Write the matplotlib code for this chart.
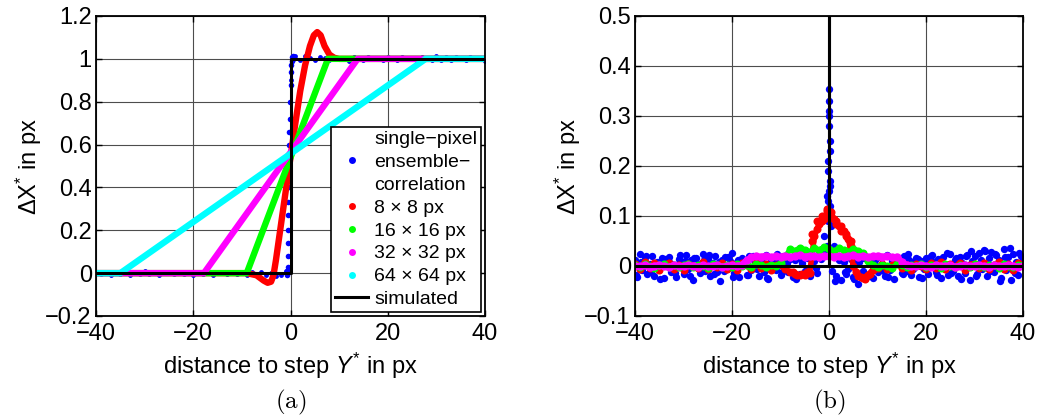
import numpy as np
from matplotlib import pyplot as plt
from matplotlib.lines import Line2D
from matplotlib.ticker import FuncFormatter

plt.rcParams['font.family'] = ['Liberation Sans', 'DejaVu Sans']
plt.rcParams['mathtext.fontset'] = 'custom'
plt.rcParams['mathtext.rm'] = 'Liberation Sans'
plt.rcParams['mathtext.it'] = 'Liberation Sans:italic'
plt.rcParams['font.size'] = 17

# ---------------- data (a): step response ----------------
x_a = np.arange(-40, 41, 1)
blue_a = [0.005, -0.006, 0.003, -0.008, 0.007, -0.002, 0.006, -0.007, 0.004, -0.004,
          0.008, -0.005, 0.002, -0.009, 0.005, 0.003, -0.006, 0.007, -0.003, 0.004,
          -0.007, 0.006, -0.002, 0.005, -0.008, 0.003, 0.007, -0.005, 0.002, -0.006,
          0.004, -0.008, 0.006, -0.003, 0.005, -0.007, 0.002, -0.012, -0.01, 0.01,
          0.9,
          1.012, 0.996, 1.015, 1.004, 0.993, 1.01, 1.002, 0.994, 1.008, 0.997,
          1.006, 0.992, 1.009, 1.003, 0.995, 1.011, 0.998, 1.005, 0.993, 1.007,
          1.002, 0.994, 1.01, 0.997, 1.006, 0.991, 1.008, 1.001, 0.995, 1.012,
          0.996, 1.007, 0.993, 1.009, 1.003, 0.994, 1.011, 0.997, 1.005, 0.992]
blue_a_step_x = [-0.8, -0.7, -0.6, -0.55, -0.5, -0.5, -0.45, -0.45, -0.4, -0.4, -0.35,
                 -0.3, -0.25, -0.2, -0.1, 0.0, 0.1, 0.2, 0.4, 0.6, 0.5, 0.3]
blue_a_step_y = [-0.01, 0.01, 0.03, 0.08, 0.14, 0.2, 0.27, 0.33, 0.4, 0.46, 0.52,
                 0.6, 0.66, 0.72, 0.8, 0.88, 0.94, 0.97, 0.99, 1.0, 1.015, 1.01]

red_a_x = [-40, -9, -7, -5.5, -4.7, -4.0, -3.5, -3, -2, -1, 0, 1, 2, 3, 4, 4.8, 5.5, 6.2, 7, 8, 9, 10, 40]
red_a_y = [0, 0, -0.01, -0.035, -0.045, -0.04, -0.01, 0.06, 0.22, 0.38, 0.54, 0.7, 0.85, 0.97,
           1.06, 1.11, 1.125, 1.11, 1.06, 1.02, 1.005, 1.0, 1.0]
green_a_x = [-40, -9, 7.7, 40]
green_a_y = [0, 0, 1, 1]
magenta_a_x = [-40, -17.8, 13.8, 40]
magenta_a_y = [0, 0, 1, 1]
cyan_a_x = [-40, -35, 27.8, 40]
cyan_a_y = [0, 0, 1, 1]
sim_a_x = [-40, 0, 0, 40]
sim_a_y = [0, 0, 1, 1]

# ---------------- data (b): deviation ----------------
x_b_fine = np.arange(-40, 40.01, 0.5)
blue_b = [0.012, -0.022, 0.025, -0.008, 0.018, -0.015, 0.005, 0.021, -0.019, 0.009,
          -0.004, 0.016, -0.024, 0.011, 0.019, -0.012, 0.003, -0.021, 0.014, 0.008,
          -0.016, 0.022, -0.006, 0.013, -0.027, 0.017, 0.004, -0.013, 0.024, -0.009,
          0.015, -0.019, 0.007, 0.02, -0.011, -0.03, 0.012, 0.018, -0.005, 0.01,
          0.026, -0.014, 0.009, -0.022, 0.017, 0.005, -0.017, 0.021, -0.008, 0.013,
          0.019, -0.02, 0.006, -0.012, 0.023, -0.025, 0.011, 0.016, -0.007, 0.014,
          -0.018, 0.021, 0.008, -0.011, 0.015, -0.021, 0.012, 0.019, -0.015, 0.006,
          -0.01, 0.017, -0.02, 0.022, 0.01, -0.013, 0.026, 0.035, 0.06, 0.14,
          0.31, 0.1, 0.04, -0.02, 0.012, -0.028, 0.008, -0.016, -0.006, 0.014,
          -0.022, 0.011, -0.036, 0.016, -0.009, 0.02, -0.017, 0.007, -0.024, 0.013,
          -0.012, 0.018, 0.004, -0.02, 0.022, -0.007, 0.011, -0.026, 0.015, 0.006,
          -0.014, 0.02, -0.009, 0.013, -0.018, 0.008, 0.017, -0.022, 0.01, -0.005,
          0.016, -0.016, 0.021, 0.009, -0.011, 0.014, -0.024, 0.019, 0.003, -0.017,
          0.025, -0.009, 0.012, -0.02, 0.018, 0.007, -0.013, 0.023, -0.028, 0.011,
          0.02, -0.015, 0.026, -0.006, 0.033, -0.019, 0.017, 0.029, -0.011, 0.022,
          0.012, -0.024, 0.034, -0.008, 0.019, -0.027, 0.025, 0.009, -0.017, 0.021, 0.015]
x_b_shift = np.arange(-39.75, 39.5, 1)
blue_b2 = [-0.018, 0.009, 0.02, -0.011, 0.003, -0.025, 0.015, 0.006, -0.014, 0.022,
           0.01, -0.02, 0.017, -0.003, 0.012, 0.023, -0.016, 0.008, -0.009, 0.019,
           -0.021, 0.013, 0.004, -0.018, 0.02, -0.006, 0.016, -0.023, 0.011, 0.025,
           -0.012, 0.007, 0.018, -0.026, 0.014, -0.01, 0.022, -0.004, 0.015, 0.03,
           0.17, -0.03, 0.018, -0.012, 0.02, -0.025, 0.009, 0.016, -0.019, 0.004,
           0.019, -0.01, -0.021, 0.012, 0.007, -0.015, 0.024, -0.006, 0.014, -0.023,
           0.01, 0.022, -0.018, 0.006, 0.027, -0.013, 0.017, -0.026, 0.02, 0.031,
           -0.02, 0.013, 0.03, -0.009, 0.024, -0.03, 0.018, 0.036, -0.014, 0.027]
blue_b_peak_x = [-0.3, -0.2, -0.1, 0.0, 0.1, 0.2, 0.3, -0.25, 0.15, -0.15, 0.25, 0.05, -0.05, 0.35, -0.35, 0.6]
blue_b_peak_y = [0.09, 0.21, 0.33, 0.355, 0.28, 0.25, 0.16, 0.13, 0.23, 0.19, 0.12, 0.15, 0.30, 0.08, 0.04, -0.01]

x_b = np.arange(-40, 41, 1)
red_b = [0.004, -0.006, 0.008, -0.003, 0.006, -0.008, 0.002, 0.007, -0.005, 0.003,
         -0.007, 0.005, 0.001, -0.004, 0.008, -0.006, 0.003, -0.002, 0.006, -0.005,
         0.004, -0.008, 0.006, 0.002, -0.005, 0.007, -0.003, 0.005, -0.007, 0.002,
         0.003, -0.006, -0.012, -0.016, -0.018, -0.017, -0.014, 0.06, 0.085, 0.095,
         0.105, 0.095, 0.08, 0.07, 0.055, 0.0, -0.02, -0.024, -0.018, -0.008,
         -0.004, 0.005, -0.006, 0.003, 0.007, -0.004, 0.002, -0.007, 0.005, 0.001,
         -0.005, 0.006, -0.003, 0.008, -0.006, 0.004, -0.002, 0.007, -0.008, 0.003,
         0.005, -0.004, 0.007, -0.006, 0.002, 0.008, -0.005, 0.004, -0.007, 0.006, 0.002]
red_b_center_x = [-3.5, -2.5, -1.5, -0.5, 0.5, 1.5, 2.5, 3.5, 4.5, -3.5, -2.5, -1.5, -0.5, 0.5, 1.5,
                  2.5, 3.5, 4.5, -4.5, 5.5, 6.5, 7.5, 8.5, -5.5, -6.5, -7.5]
red_b_center_y = [0.05, 0.075, 0.09, 0.11, 0.1, 0.085, 0.07, 0.065, 0.05, 0.065, 0.09, 0.1, 0.115,
                  0.108, 0.09, 0.08, 0.06, 0.04, -0.012, -0.012, -0.022, -0.025, -0.015, -0.016,
                  -0.018, -0.012]
green_b = [0.003, -0.002, 0.004, 0.001, -0.003, 0.002, 0.004, -0.001, 0.003, -0.002,
           0.002, 0.004, -0.002, 0.003, 0.001, -0.003, 0.004, 0.002, -0.001, 0.003,
           -0.002, 0.004, 0.001, 0.003, -0.002, 0.004, 0.002, -0.001, 0.003, 0.001,
           0.006, 0.02, 0.034, 0.031, 0.037, 0.033, 0.029, 0.036, 0.032, 0.038,
           0.035, 0.03, 0.036, 0.033, 0.029, 0.035, 0.031, 0.026, 0.01, 0.003,
           -0.002, 0.003, 0.001, -0.003, 0.004, 0.002, -0.002, 0.003, 0.001, 0.004,
           -0.001, 0.003, 0.002, -0.003, 0.004, 0.001, -0.002, 0.003, 0.002, -0.001,
           0.004, 0.001, -0.002, 0.003, 0.002, -0.003, 0.004, 0.001, -0.002, 0.003, 0.002]
magenta_b = [0.001, 0.0, 0.002, -0.001, 0.001, 0.002, 0.0, -0.001, 0.002, 0.001,
             0.0, 0.002, 0.001, -0.001, 0.002, 0.0, 0.001, 0.002, -0.001, 0.001,
             0.002, 0.0, 0.003, 0.012, 0.018, 0.02, 0.019, 0.021, 0.018, 0.02,
             0.019, 0.021, 0.018, 0.02, 0.022, 0.019, 0.021, 0.02, 0.018, 0.021,
             0.02, 0.019, 0.021, 0.018, 0.02, 0.022, 0.019, 0.021, 0.018, 0.02,
             0.021, 0.019, 0.02, 0.018, 0.019, 0.009, 0.002, 0.001, 0.0, 0.002,
             0.001, -0.001, 0.002, 0.001, 0.0, 0.002, -0.001, 0.001, 0.002, 0.0,
             0.001, 0.002, 0.0, -0.001, 0.002, 0.001, 0.0, 0.002, 0.001, -0.001, 0.001]
sim_b_x = [-40, 0, 0, 0, 40]
sim_b_y = [0, 0, 1, 0, 0]

labels = ['single\u2212pixel', 'ensemble\u2212', 'correlation',
          '8 \u00d7 8 px', '16 \u00d7 16 px', '32 \u00d7 32 px', '64 \u00d7 64 px', 'simulated']

yticks_a = [-0.2, 0, 0.2, 0.4, 0.6, 0.8, 1, 1.2]
yticks_b = [-0.1, 0, 0.1, 0.2, 0.3, 0.4, 0.5]
xticks = [-40, -20, 0, 20, 40]

C_BLUE, C_RED, C_GREEN, C_MAG, C_CYAN = '#0000ff', '#ff0000', '#00ff00', '#ff00ff', '#00ffff'

fmt = FuncFormatter(lambda v, p: ('%g' % v).replace('-', '\u2212'))

fig = plt.figure(figsize=(10.39, 4.18), dpi=100)
ax1 = fig.add_axes([96 / 1039, 102 / 418, 389 / 1039, 300 / 418])
ax2 = fig.add_axes([635 / 1039, 102 / 418, 388 / 1039, 300 / 418])

line_kw = dict(lw=4.6, solid_capstyle='round', solid_joinstyle='round')

# (a)
ax1.plot(x_a, blue_a, 'o', color=C_BLUE, ms=3.5, mec='none')
ax1.plot(blue_a_step_x, blue_a_step_y, 'o', color=C_BLUE, ms=4, mec='none')
ax1.plot(red_a_x, red_a_y, color=C_RED, **line_kw)
ax1.plot(green_a_x, green_a_y, color=C_GREEN, **line_kw)
ax1.plot(magenta_a_x, magenta_a_y, color=C_MAG, **line_kw)
ax1.plot(cyan_a_x, cyan_a_y, color=C_CYAN, **line_kw)
ax1.plot(sim_a_x, sim_a_y, color='k', lw=2.2)

# (b)
ax2.plot(x_b_fine, blue_b, 'o', color=C_BLUE, ms=5.3, mec='none')
ax2.plot(x_b_shift, blue_b2, 'o', color=C_BLUE, ms=5.3, mec='none')
ax2.plot(blue_b_peak_x, blue_b_peak_y, 'o', color=C_BLUE, ms=5.3, mec='none')
ax2.plot(x_b, red_b, 'o-', color=C_RED, ms=5.8, mec='none', lw=4)
ax2.plot(red_b_center_x, red_b_center_y, 'o', color=C_RED, ms=5.8, mec='none')
ax2.plot(x_b, green_b, 'o-', color=C_GREEN, ms=5.8, mec='none', lw=3.5)
ax2.plot(x_b, magenta_b, 'o-', color=C_MAG, ms=6, mec='none', lw=4)
ax2.plot(sim_b_x, sim_b_y, color='k', lw=2.2)

for ax, yt in ((ax1, yticks_a), (ax2, yticks_b)):
    ax.set_xlim(-40, 40)
    ax.set_xticks(xticks)
    ax.set_yticks(yt)
    ax.set_ylim(yt[0], yt[-1])
    ax.xaxis.set_major_formatter(fmt)
    ax.yaxis.set_major_formatter(fmt)
    ax.grid(True, color='0.3', lw=0.8)
    ax.set_axisbelow(True)
    ax.tick_params(direction='in', length=4, width=1, top=True, right=True, labelsize=17)
    ax.tick_params(axis='x', pad=5)
    ax.tick_params(axis='y', pad=3)
    for s in ax.spines.values():
        s.set_linewidth(1.3)
    ax.set_xlabel('distance to step $Y^{*}$ in px', fontsize=17, labelpad=4)
    ax.set_ylabel('\u0394X$^{*}$ in px', fontsize=17, labelpad=1)

# legend
handles = [Line2D([], [], ls='none'),
           Line2D([], [], ls='none', marker='o', color=C_BLUE, ms=5, mec='none'),
           Line2D([], [], ls='none'),
           Line2D([], [], ls='none', marker='o', color=C_RED, ms=5, mec='none'),
           Line2D([], [], ls='none', marker='o', color=C_GREEN, ms=5, mec='none'),
           Line2D([], [], ls='none', marker='o', color=C_MAG, ms=5, mec='none'),
           Line2D([], [], ls='none', marker='o', color=C_CYAN, ms=5, mec='none'),
           Line2D([], [], color='k', lw=2.2)]
leg = ax1.legend(handles, labels, loc='lower right', fontsize=14, labelspacing=0.27,
                 handlelength=1.7, handletextpad=0.3, borderpad=0.2, borderaxespad=0.2,
                 fancybox=False, framealpha=1, edgecolor='k')
leg.get_frame().set_linewidth(1.2)

fig.text(290.5 / 1039, 1 - 402 / 418, r'$\mathrm{(a)}$', math_fontfamily='cm', fontsize=18,
         ha='center', va='center')
fig.text(829 / 1039, 1 - 402 / 418, r'$\mathrm{(b)}$', math_fontfamily='cm', fontsize=18,
         ha='center', va='center')

plt.savefig('out.png', dpi=100)
